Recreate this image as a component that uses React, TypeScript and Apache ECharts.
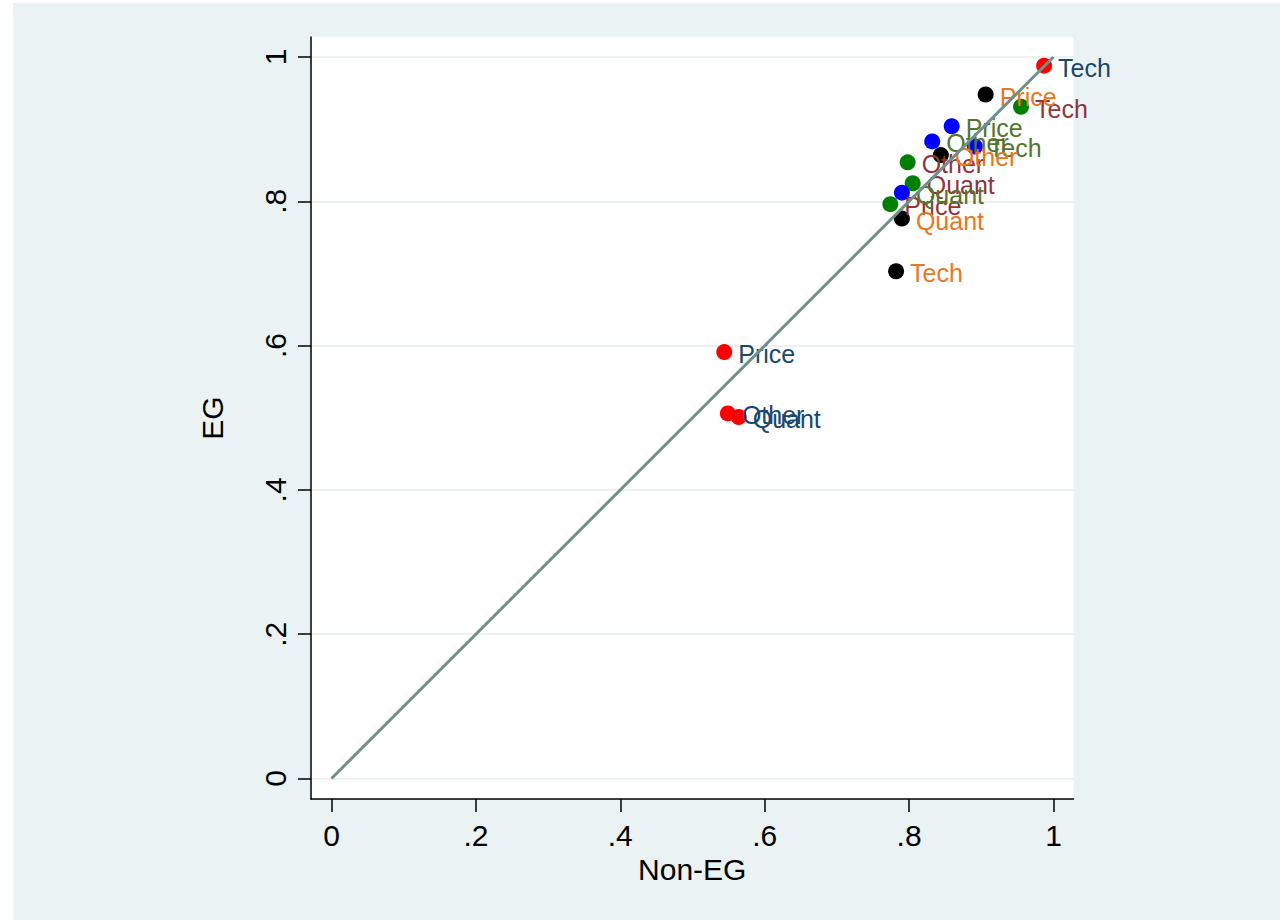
import React, { useEffect, useRef } from "react";
import * as echarts from "echarts";

const categories = ["Price", "Quant", "Tech", "Other"];

// Red markers (labels navy)
const redX = [0.544, 0.564, 0.987, 0.549];
const redY = [0.591, 0.501, 0.988, 0.506];
// Green markers (labels maroon)
const greenX = [0.774, 0.805, 0.955, 0.798];
const greenY = [0.796, 0.825, 0.931, 0.854];
// Blue markers (labels forest green)
const blueX = [0.859, 0.79, 0.891, 0.832];
const blueY = [0.904, 0.812, 0.876, 0.883];
// Black markers (labels orange)
const blackX = [0.906, 0.79, 0.782, 0.844];
const blackY = [0.948, 0.776, 0.703, 0.864];

const tickValues = [0, 0.2, 0.4, 0.6, 0.8, 1];
const diagonal = [
  [0, 0],
  [1, 1],
];

const FONT = "'Liberation Sans', Arial, Helvetica, sans-serif";

const fmt = (v: number) => {
  const r = Math.round(v * 10) / 10;
  if (r === 0) return "0";
  if (r === 1) return "1";
  return String(r).replace(/^0/, "");
};

function makeSeries(xs: number[], ys: number[], dot: string, labelColor: string) {
  return {
    type: "scatter",
    symbol: "circle",
    symbolSize: 16,
    itemStyle: { color: dot, opacity: 1 },
    data: xs.map((x, i) => [x, ys[i], categories[i]]),
    label: {
      show: true,
      position: "right",
      distance: 6,
      offset: [0, 2],
      formatter: (p: any) => p.data[2],
      color: labelColor,
      fontSize: 25,
      fontFamily: FONT,
    },
    emphasis: { disabled: true },
    z: 3,
  };
}

export default function App() {
  const ref = useRef<HTMLDivElement>(null);
  useEffect(() => {
    if (!ref.current) return;
    const chart = echarts.init(ref.current, null, { renderer: "svg" });
    const axisCommon = {
      type: "value",
      min: -0.0284,
      max: 1.0277,
      nameLocation: "middle",
      nameTextStyle: { fontSize: 30, color: "#000", fontFamily: FONT },
      axisLine: { show: true, onZero: false, lineStyle: { color: "#000", width: 1.5 } },
      axisTick: {
        show: true,
        length: 13,
        customValues: tickValues,
        lineStyle: { color: "#000", width: 1.5 },
      },
      axisLabel: {
        customValues: tickValues,
        formatter: fmt,
        fontSize: 30,
        color: "#000",
        fontFamily: FONT,
        margin: 21,
      },
    };
    chart.setOption({
      animation: false,
      backgroundColor: "#EAF2F3",
      grid: {
        left: 298,
        top: 34,
        right: 206.5,
        bottom: 121,
        show: true,
        backgroundColor: "#ffffff",
        borderWidth: 0,
      },
      xAxis: {
        ...axisCommon,
        name: "Non-EG",
        nameGap: 52,
        splitLine: { show: false },
      },
      yAxis: {
        ...axisCommon,
        name: "EG",
        nameGap: 84,
        axisLabel: { ...axisCommon.axisLabel, rotate: 90 },
        splitLine: {
          show: true,
          customValues: tickValues,
          lineStyle: { color: "#EAF2F3", width: 2 },
        },
      },
      series: [
        makeSeries(redX, redY, "#ff0000", "#1A476F"),
        makeSeries(greenX, greenY, "#008000", "#90353B"),
        makeSeries(blueX, blueY, "#0000ff", "#55752F"),
        makeSeries(blackX, blackY, "#000000", "#E87722"),
        {
          type: "line",
          data: diagonal,
          showSymbol: false,
          lineStyle: { color: "#71908A", width: 3 },
          emphasis: { disabled: true },
          z: 4,
        },
      ],
    });
    return () => chart.dispose();
  }, []);
  return (
    <div style={{ position: "fixed", left: 0, top: 0, width: 1280, height: 920, background: "#fff" }}>
      <div
        ref={ref}
        style={{ position: "absolute", left: 13, top: 3, width: 1267, height: 917 }}
      />
    </div>
  );
}
